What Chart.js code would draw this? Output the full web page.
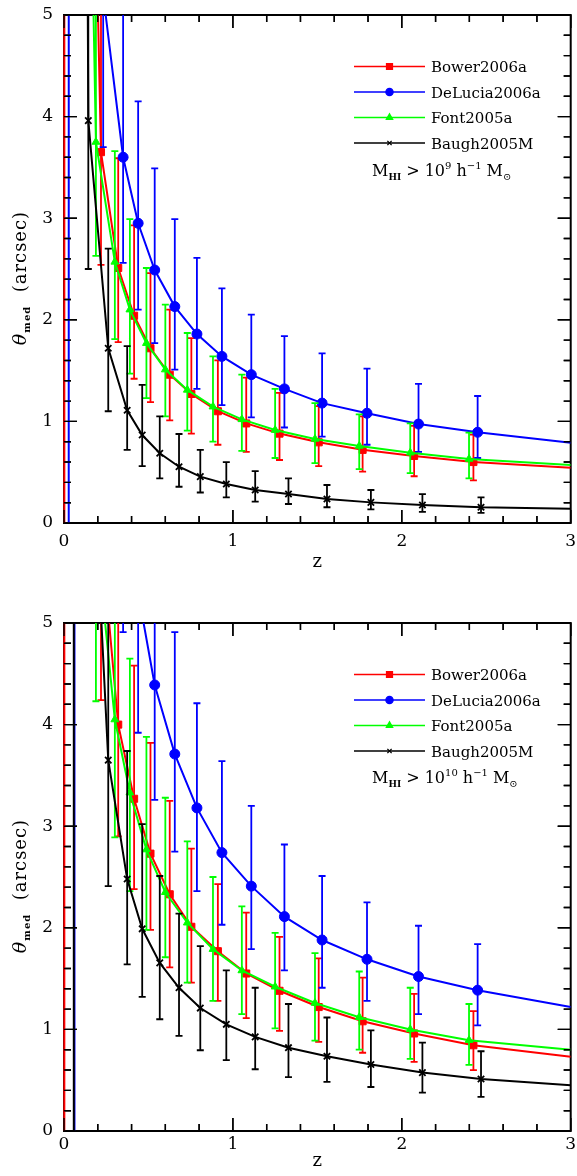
<!DOCTYPE html>
<html>
<head>
<meta charset="utf-8">
<script src="https://cdn.jsdelivr.net/npm/chart.js@4.4.1/dist/chart.umd.min.js"></script>
<style>
  body { margin: 0; background: #fff; }
  canvas { position: absolute; left: 0; }
</style>
</head>
<body>
<canvas id="panelA" width="577" height="588" style="top:0"></canvas>
<canvas id="panelB" width="577" height="588" style="top:588px"></canvas>
<script>
// model names, in legend order
const models = ['Bower2006a', 'DeLucia2006a', 'Font2005a', 'Baugh2005M'];
const colors = ['#ff0000', '#0000ff', '#00ff00', '#000000'];

// redshifts of the plotted points (same in both panels)
const zBower   = [0.219, 0.321, 0.415, 0.512, 0.626, 0.754, 0.911, 1.079, 1.276, 1.508, 1.768, 2.073, 2.424];
const zDeLucia = [0.232, 0.350, 0.439, 0.537, 0.656, 0.787, 0.935, 1.109, 1.305, 1.528, 1.794, 2.099, 2.449];
const zFont    = [0.189, 0.301, 0.390, 0.488, 0.600, 0.730, 0.882, 1.053, 1.250, 1.486, 1.748, 2.050, 2.398];
const zBaugh   = [0.144, 0.262, 0.374, 0.463, 0.567, 0.681, 0.807, 0.961, 1.132, 1.329, 1.557, 1.817, 2.122, 2.469];

// upper panel, M_HI > 10^9 : median and error bar ends (arcsec)
const bowerMed9 = [3.65, 2.51, 2.04, 1.72, 1.46, 1.27, 1.10, 0.98, 0.88, 0.794, 0.72, 0.66, 0.60];
const bowerLo9  = [2.54, 1.78, 1.42, 1.19, 1.01, 0.88, 0.77, 0.70, 0.62, 0.56, 0.505, 0.46, 0.42];
const bowerHi9  = [5.2, 3.59, 2.93, 2.46, 2.10, 1.82, 1.60, 1.43, 1.28, 1.15, 1.05, 0.955, 0.87];
const delMed9   = [5.2, 3.60, 2.95, 2.49, 2.13, 1.86, 1.64, 1.46, 1.32, 1.18, 1.08, 0.974, 0.893];
const delLo9    = [3.70, 2.56, 2.10, 1.77, 1.51, 1.32, 1.16, 1.04, 0.94, 0.85, 0.77, 0.70, 0.64];
const delHi9    = [7.3, 5.1, 4.15, 3.49, 2.99, 2.61, 2.31, 2.05, 1.84, 1.67, 1.52, 1.37, 1.25];
const fontMed9  = [3.75, 2.57, 2.10, 1.77, 1.51, 1.31, 1.145, 1.02, 0.915, 0.827, 0.758, 0.692, 0.63];
const fontLo9   = [2.63, 1.81, 1.47, 1.23, 1.05, 0.91, 0.80, 0.71, 0.64, 0.59, 0.53, 0.49, 0.44];
const fontHi9   = [5.3, 3.66, 2.99, 2.51, 2.15, 1.87, 1.64, 1.46, 1.32, 1.18, 1.07, 0.98, 0.89];
const baughMed9 = [3.96, 1.72, 1.11, 0.866, 0.686, 0.554, 0.456, 0.384, 0.325, 0.285, 0.236, 0.203, 0.177, 0.155];
const baughLo9  = [2.50, 1.10, 0.72, 0.56, 0.44, 0.357, 0.30, 0.253, 0.21, 0.187, 0.155, 0.135, 0.11, 0.10];
const baughHi9  = [6.2, 2.70, 1.74, 1.36, 1.05, 0.876, 0.72, 0.60, 0.51, 0.44, 0.374, 0.325, 0.285, 0.253];

// lower panel, M_HI > 10^10
const bowerMed10 = [5.9, 4.00, 3.27, 2.73, 2.33, 2.01, 1.77, 1.55, 1.38, 1.22, 1.08, 0.96, 0.844];
const bowerLo10  = [4.24, 2.90, 2.38, 1.98, 1.61, 1.46, 1.28, 1.11, 0.985, 0.877, 0.77, 0.68, 0.60];
const bowerHi10  = [8.3, 5.7, 4.58, 3.82, 3.25, 2.78, 2.43, 2.15, 1.91, 1.70, 1.51, 1.35, 1.18];
const delMed10   = [9.0, 6.6, 5.3, 4.39, 3.71, 3.18, 2.74, 2.41, 2.11, 1.88, 1.69, 1.52, 1.386];
const delLo10    = [6.7, 4.91, 3.92, 3.26, 2.75, 2.36, 2.03, 1.79, 1.58, 1.41, 1.28, 1.15, 1.04];
const delHi10    = [12, 8.8, 7.0, 5.9, 4.91, 4.21, 3.64, 3.20, 2.82, 2.51, 2.25, 2.02, 1.84];
const fontMed10  = [5.9, 4.05, 3.33, 2.77, 2.35, 2.05, 1.79, 1.58, 1.42, 1.26, 1.12, 1.00, 0.894];
const fontLo10   = [4.23, 2.89, 2.36, 1.98, 1.71, 1.46, 1.28, 1.15, 1.01, 0.89, 0.80, 0.71, 0.65];
const fontHi10   = [8.3, 5.7, 4.65, 3.88, 3.28, 2.85, 2.50, 2.21, 1.95, 1.75, 1.57, 1.41, 1.25];
const baughMed10 = [7.6, 3.65, 2.48, 1.99, 1.655, 1.41, 1.21, 1.05, 0.926, 0.82, 0.736, 0.654, 0.575, 0.512];
const baughLo10  = [5.1, 2.41, 1.64, 1.32, 1.10, 0.936, 0.795, 0.697, 0.608, 0.53, 0.483, 0.433, 0.378, 0.335];
const baughHi10  = [11.5, 5.6, 3.74, 3.02, 2.51, 2.14, 1.82, 1.58, 1.41, 1.25, 1.117, 0.99, 0.87, 0.785];

// model curves: where they shoot up near z=0, and their value at z=3
const bowerLead9 = [[0, 0], [0.002, 60], [0.15, 9]];
const delLead9   = [[0.028, 0], [0.03, 60], [0.15, 9]];
const fontLead9  = [[0.13, 9]];
const baughLead9 = [[0.12, 12]];
const ends9 = [0.544, 0.79, 0.571, 0.141];

const bowerLead10 = [[0, 0], [0.002, 60], [0.15, 10]];
const delLead10   = [[0.06, 0], [0.062, 60], [0.16, 14]];
const fontLead10  = [[0.13, 10]];
const baughLead10 = [[0.056, 0], [0.058, 60], [0.1, 14]];
const ends10 = [0.73, 1.22, 0.80, 0.45];

Chart.defaults.font.family = "'DejaVu Serif', serif";
Chart.defaults.color = '#000';

const styles = ['rect', 'circle', 'triangle', 'crossRot'];
const radii = [5, 5, 4.5, 4.5];
const legendRadii = [4.2, 3.6, 3.6, 3];

function pts(list) { return list.map(p => ({x: p[0], y: p[1]})); }

// ticks pointing in, on all four sides
function drawBox(chart, border) {
  const {ctx, chartArea: a, scales: {x, y}} = chart;
  ctx.save();
  ctx.strokeStyle = '#000';
  ctx.lineWidth = 1.4;
  ctx.beginPath();
  for (let i = 0; i <= 15; i++) {
    const px = x.getPixelForValue(i * 0.2), L = i % 5 === 0 ? 13 : 7;
    ctx.moveTo(px, a.bottom); ctx.lineTo(px, a.bottom - L);
    ctx.moveTo(px, a.top); ctx.lineTo(px, a.top + L);
  }
  for (let i = 0; i <= 25; i++) {
    const py = y.getPixelForValue(i * 0.2), L = i % 5 === 0 ? 13 : 7;
    ctx.moveTo(a.left, py); ctx.lineTo(a.left + L, py);
    ctx.moveTo(a.right, py); ctx.lineTo(a.right - L, py);
  }
  ctx.stroke();
  if (border) {
    ctx.lineWidth = 2;
    ctx.strokeRect(a.left, a.top, a.right - a.left, a.bottom - a.top);
  }
  ctx.restore();
}

const frame = {
  id: 'frame',
  beforeDatasetsDraw(chart) { drawBox(chart, true); },
  afterDatasetsDraw(chart) { drawBox(chart, false); }
};

const errorBars = {
  id: 'errorBars',
  beforeDatasetDraw(chart, args) {
    const ds = chart.data.datasets[args.index];
    if (!ds.bars) return;
    const {ctx, chartArea: a, scales: {x, y}} = chart;
    ctx.save();
    ctx.beginPath();
    ctx.rect(a.left, a.top, a.right - a.left, a.bottom - a.top);
    ctx.clip();
    ctx.strokeStyle = ds.borderColor;
    ctx.lineWidth = 1.8;
    ctx.beginPath();
    ds.bars.forEach(b => {
      const px = x.getPixelForValue(b[0]);
      const p1 = y.getPixelForValue(b[1]), p2 = y.getPixelForValue(b[2]);
      ctx.moveTo(px, p1); ctx.lineTo(px, p2);
      ctx.moveTo(px - 3.5, p1); ctx.lineTo(px + 3.5, p1);
      ctx.moveTo(px - 3.5, p2); ctx.lineTo(px + 3.5, p2);
    });
    ctx.stroke();
    ctx.restore();
  }
};

function drawNote(ctx, x, y, power) {
  const parts = [
    ['M', '16px', 0], ['HI', 'bold 9px', 4], [' > 10', '16px', 0], [power, '10px', -7],
    [' h', '16px', 0], ['\u22121', '10px', -7], [' M', '16px', 0], ['\u2299', '10px', 4]
  ];
  ctx.fillStyle = '#000';
  ctx.textBaseline = 'alphabetic';
  parts.forEach(p => {
    ctx.font = p[1] + " 'DejaVu Serif'";
    ctx.fillText(p[0], x, y + p[2]);
    x += ctx.measureText(p[0]).width;
  });
}

const modelLegend = {
  id: 'modelLegend',
  afterDatasetsDraw(chart, args, opts) {
    const {ctx, chartArea: a} = chart;
    ctx.save();
    models.forEach((name, k) => {
      const y = a.top + 51.5 + k * 25.5;
      ctx.strokeStyle = colors[k];
      ctx.lineWidth = 1.3;
      ctx.beginPath(); ctx.moveTo(354, y); ctx.lineTo(425, y); ctx.stroke();
      ctx.fillStyle = colors[k];
      Chart.helpers.drawPoint(ctx, {pointStyle: styles[k], radius: legendRadii[k], borderWidth: 1, rotation: 0}, 389.5, y);
      ctx.fillStyle = '#000';
      ctx.font = "15px 'DejaVu Serif'";
      ctx.textBaseline = 'alphabetic';
      ctx.fillText(name, 431, y + 5.5);
    });
    drawNote(ctx, 372, a.top + opts.noteY, opts.power);
    ctx.restore();
  }
};

const yTitle = {
  id: 'yTitle',
  afterDraw(chart) {
    const {ctx, chartArea: a} = chart;
    const parts = [['\u03b8', "italic 19px 'DejaVu Serif'", 0], ['med', "bold 10px 'DejaVu Serif'", 4], ['  (arcsec)', "18px 'DejaVu Serif'", 0]];
    ctx.save();
    ctx.fillStyle = '#000';
    ctx.textBaseline = 'alphabetic';
    ctx.letterSpacing = '1px';
    let total = 0;
    parts.forEach(p => { ctx.font = p[1]; total += ctx.measureText(p[0]).width; });
    ctx.translate(26, (a.top + a.bottom) / 2 + 9);
    ctx.rotate(-Math.PI / 2);
    let x = -total / 2;
    parts.forEach(p => {
      ctx.font = p[1];
      ctx.fillText(p[0], x, p[2]);
      x += ctx.measureText(p[0]).width;
    });
    ctx.restore();
  }
};

function makePanel(id, series, ends, power, geom) {
  const datasets = [];
  series.forEach((s, k) => {
    datasets.push({
      data: pts(s.lead).concat(s.z.map((z, i) => ({x: z, y: s.med[i]})), [{x: 3, y: ends[k]}]),
      showLine: true,
      borderColor: colors[k],
      borderWidth: 2,
      pointRadius: 0,
      tension: 0,
      clip: {left: 2, top: 0, right: 0, bottom: 0}
    });
    datasets.push({
      data: s.z.map((z, i) => ({x: z, y: s.med[i]})),
      bars: s.z.map((z, i) => [z, s.lo[i], s.hi[i]]),
      showLine: false,
      pointStyle: styles[k],
      pointRadius: radii[k],
      pointBorderWidth: k === 3 ? 1.8 : 1,
      backgroundColor: colors[k],
      borderColor: colors[k],
      clip: 0
    });
  });
  datasets.forEach((d, i) => { d.order = 100 - i; });

  new Chart(document.getElementById(id), {
    type: 'scatter',
    data: {datasets},
    options: {
      responsive: false,
      animation: false,
      events: [],
      layout: {padding: {left: 0, right: 5, top: geom.top, bottom: 0}},
      plugins: {
        legend: {display: false},
        tooltip: {enabled: false},
        modelLegend: {noteY: geom.noteY, power}
      },
      scales: {
        x: {
          type: 'linear', min: 0, max: 3,
          afterFit: s => { s.height = geom.xh; s.paddingLeft = 0; s.paddingRight = 0; },
          grid: {display: false, drawTicks: false},
          border: {display: false},
          ticks: {stepSize: 1, font: {size: 17}, padding: geom.tickPad, maxRotation: 0},
          title: {display: true, text: 'z', font: {size: 18}, padding: {top: 0, bottom: geom.titlePad}}
        },
        y: {
          type: 'linear', min: 0, max: 5,
          afterFit: s => { s.width = 64; s.paddingTop = 0; s.paddingBottom = 0; },
          grid: {display: false, drawTicks: false},
          border: {display: false},
          ticks: {stepSize: 1, font: {size: 17}, padding: 11}
        }
      }
    },
    plugins: [frame, errorBars, modelLegend, yTitle]
  });
}

makePanel('panelA', [
  {z: zBower, med: bowerMed9, lo: bowerLo9, hi: bowerHi9, lead: bowerLead9},
  {z: zDeLucia, med: delMed9, lo: delLo9, hi: delHi9, lead: delLead9},
  {z: zFont, med: fontMed9, lo: fontLo9, hi: fontHi9, lead: fontLead9},
  {z: zBaugh, med: baughMed9, lo: baughLo9, hi: baughHi9, lead: baughLead9}
], ends9, '9', {top: 15, xh: 65, tickPad: 8, titlePad: 15, noteY: 161});

makePanel('panelB', [
  {z: zBower, med: bowerMed10, lo: bowerLo10, hi: bowerHi10, lead: bowerLead10},
  {z: zDeLucia, med: delMed10, lo: delLo10, hi: delHi10, lead: delLead10},
  {z: zFont, med: fontMed10, lo: fontLo10, hi: fontHi10, lead: fontLead10},
  {z: zBaugh, med: baughMed10, lo: baughLo10, hi: baughHi10, lead: baughLead10}
], ends10, '10', {top: 35, xh: 45, tickPad: 3, titlePad: 4, noteY: 160});
</script>
</body>
</html>
